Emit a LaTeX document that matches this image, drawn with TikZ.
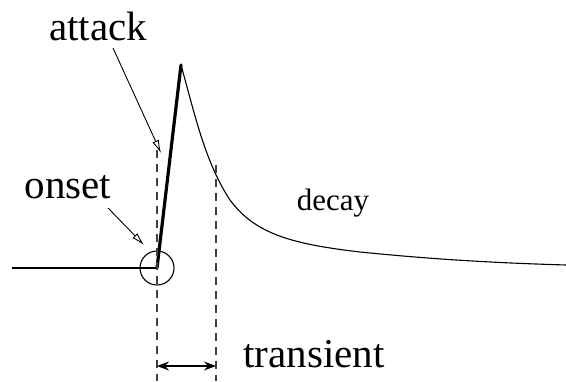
\documentclass[tikz,border=0pt]{standalone}
\usepackage{fontspec}
\setmainfont{Liberation Serif}
\usetikzlibrary{arrows.meta}
\begin{document}
\begin{tikzpicture}[x=1pt,y=-1pt,
  lbl/.style={inner sep=0pt,anchor=base,font=\fontsize{41}{41}\selectfont},
  smalllbl/.style={inner sep=0pt,anchor=base,font=\fontsize{31}{31}\selectfont},
  guide/.style={draw=black!75,dash pattern=on 8pt off 6pt,line width=1.2pt},
  pointer/.style={draw,line width=0.9pt,-{Latex[open,length=13pt,width=7pt]}},
  signal/.style={draw,line width=1.1pt}]
\useasboundingbox (0,0) rectangle (566,381);
% key points
\coordinate (start) at (12,268);
\coordinate (onset) at (157,268);
\coordinate (peak) at (181,65);
\coordinate (mid) at (230,200);
\coordinate (tail) at (566,265);
\coordinate (lt) at (157,150);
\coordinate (lb) at (157,381);
\coordinate (rt) at (216,165);
\coordinate (rb) at (216,381);
\coordinate (al) at (157,366);
\coordinate (ar) at (216,366);
% labels
\node[lbl] (attack) at (98,40) {attack};
\node[lbl] (onsetlbl) at (68,198) {onset};
\node[smalllbl] (decay) at (333,210) {decay};
\node[lbl] (transient) at (314,367) {transient};
% signal
\draw[signal] (start) -- (onset);
\draw[line width=3.2pt,line cap=round] (onset) -- (peak);
\draw[signal] (peak) .. controls (195,115) and (205,162) .. (mid)
  .. controls (255,234) and (292,244) .. (360,252)
  .. controls (440,260) and (500,263) .. (tail);
\node[draw,circle,line width=1.1pt,minimum size=34pt,inner sep=0pt] (ring) at (onset) {};
% guides
\draw[guide] (lt) -- (lb);
\draw[guide] (rt) -- (rb);
\draw[line width=1.4pt,{Stealth[length=12pt,width=9pt]}-{Stealth[length=12pt,width=9pt]}] (al) -- (ar);
% pointers
\coordinate (atip) at (161,153);
\coordinate (otip) at (144,245);
\draw[pointer] (113,48) -- (atip);
\draw[pointer] (108,208) -- (otip);
\end{tikzpicture}
\end{document}
